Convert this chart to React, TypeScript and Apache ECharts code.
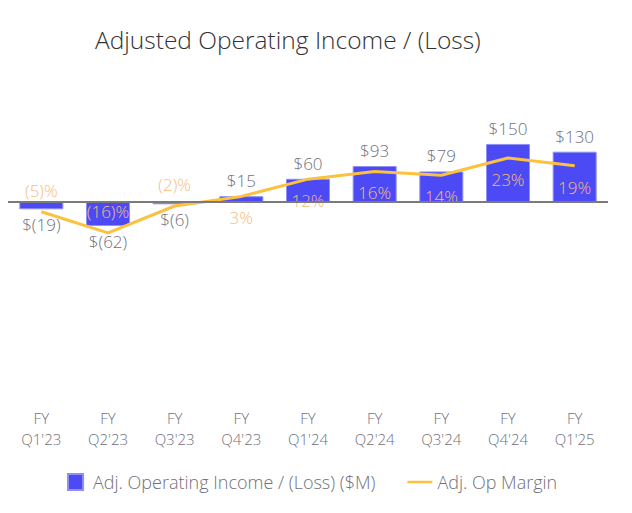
import React, { useEffect, useRef } from "react";
import * as echarts from "echarts";

const categories = ["FY\nQ1'23", "FY\nQ2'23", "FY\nQ3'23", "FY\nQ4'23", "FY\nQ1'24", "FY\nQ2'24", "FY\nQ3'24", "FY\nQ4'24", "FY\nQ1'25"];
const incomeValues = [-19, -62, -6, 15, 60, 93, 79, 150, 130];
const marginValues = [-5, -16, -2, 3, 12, 16, 14, 23, 19];
const marginLabelAbove = [true, true, true, false, false, false, false, false, false];

const FONT = "'Open Sans', 'Noto Sans', sans-serif";
const GRAY = "#70707c";
const BLUE = "#4b4af5";
const GOLD = "#fbc13f";

export default function App() {
  const ref = useRef<HTMLDivElement>(null);
  useEffect(() => {
    const chart = echarts.init(ref.current!, null, { renderer: "svg" });
    chart.setOption({
      animation: false,
      textStyle: { fontFamily: FONT },
      title: {
        text: "Adjusted Operating Income / (Loss)",
        left: 82,
        top: 14,
        textStyle: { fontFamily: FONT, fontSize: 24.5, fontWeight: 300, color: "#333" },
      },
      grid: { left: 0, right: 16, top: 81, bottom: 108, containLabel: false },
      legend: {
        bottom: 9,
        left: 54,
        itemGap: 32,
        itemWidth: 25,
        itemHeight: 16,
        textStyle: { fontFamily: FONT, fontSize: 18, fontWeight: 300, color: GRAY },
        data: [
          { name: "Adj. Operating Income / (Loss) ($M)", icon: "path://M0,0 L16,0 L16,17 L0,17 Z", itemStyle: { color: BLUE } },
          { name: "Adj. Op Margin", icon: "path://M0,0 L30,0 L30,3 L0,3 Z", itemStyle: { color: GOLD } },
        ],
      },
      xAxis: {
        type: "category",
        data: categories,
        axisLine: { show: false, onZero: false },
        axisTick: { show: false },
        axisLabel: { color: GRAY, fontSize: 15, lineHeight: 21, margin: 10, fontFamily: FONT, fontWeight: 300 },
      },
      yAxis: [
        { type: "value", min: -504, max: 292, show: false, splitLine: { show: false } },
        { type: "value", min: -101.6, max: 59, show: false, splitLine: { show: false } },
      ],
      series: [
        {
          name: "Adj. Operating Income / (Loss) ($M)",
          type: "bar",
          data: incomeValues.map((v) => ({
            value: v,
            label: { position: v < 0 ? "bottom" : "top" },
          })),
          barWidth: 44,
          itemStyle: { color: BLUE, borderColor: "#8f8ff5", borderWidth: 1 },
          label: {
            show: true,
            distance: 7,
            color: GRAY,
            fontSize: 17,
            fontWeight: 300,
            fontFamily: FONT,
            formatter: (p: any) => (p.value < 0 ? `$(${-p.value})` : `$${p.value}`),
          },
          markLine: {
            silent: true,
            symbol: ["none", "none"],
            label: { show: false },
            lineStyle: { color: "#7a7a7a", width: 2, type: "solid" },
            data: [{ yAxis: 0 }],
          },
          z: 1,
        },
        {
          name: "Adj. Op Margin",
          type: "line",
          yAxisIndex: 1,
          data: marginValues.map((v, i) => ({
            value: v,
            label: { position: marginLabelAbove[i] ? "top" : "bottom" },
          })),
          symbol: "circle",
          symbolSize: 0,
          showSymbol: true,
          lineStyle: { color: GOLD, width: 3 },
          itemStyle: { color: GOLD },
          label: {
            show: true,
            distance: 13,
            color: "#f7bd7c",
            fontSize: 17,
            fontWeight: 300,
            fontFamily: FONT,
            formatter: (p: any) => (p.value < 0 ? `(${-p.value})%` : `${p.value}%`),
          },
          labelLayout: { hideOverlap: false },
          z: 3,
        },
      ],
    });
    return () => chart.dispose();
  }, []);
  return <div ref={ref} style={{ width: 616, height: 497 }} />;
}
